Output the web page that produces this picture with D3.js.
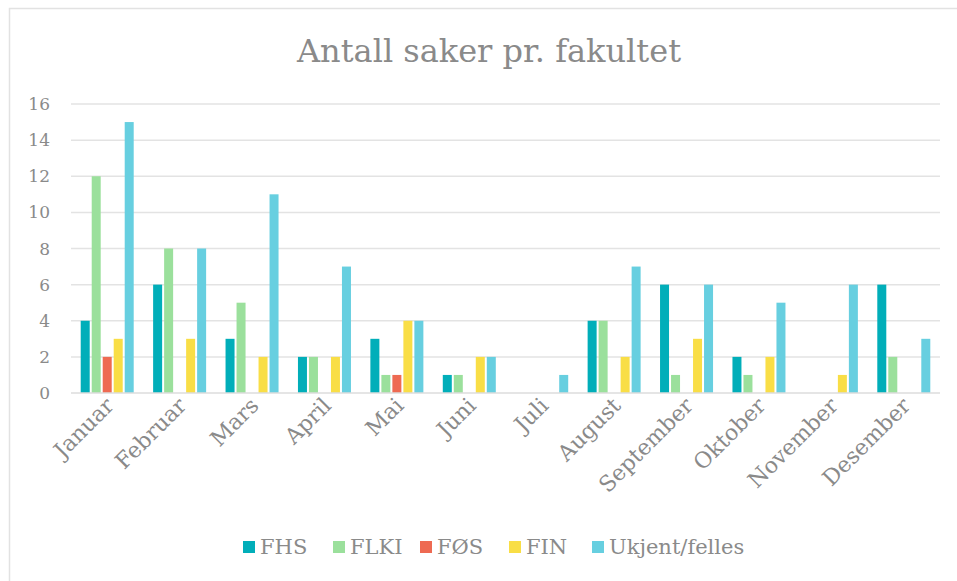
<!DOCTYPE html>
<html>
<head>
<meta charset="utf-8">
<script src="https://cdn.jsdelivr.net/npm/d3@7"></script>
<style>
  body { margin: 0; background: #fff; }
  text { font-family: "DejaVu Serif", Georgia, serif; fill: #8a8a8a; }
</style>
</head>
<body>
<div id="chart"></div>
<script>
// data
var months = ["Januar", "Februar", "Mars", "April", "Mai", "Juni", "Juli", "August", "September", "Oktober", "November", "Desember"];
var series = ["FHS", "FLKI", "FØS", "FIN", "Ukjent/felles"];
var fhs    = [4, 6, 3, 2, 3, 1, 0, 4, 6, 2, 0, 6];
var flki   = [12, 8, 5, 2, 1, 1, 0, 4, 1, 1, 0, 2];
var fos    = [2, 0, 0, 0, 1, 0, 0, 0, 0, 0, 0, 0];
var fin    = [3, 3, 2, 2, 4, 2, 0, 2, 3, 2, 1, 0];
var ukjent = [15, 8, 11, 7, 4, 2, 1, 7, 6, 5, 6, 3];
var yTicks = [0, 2, 4, 6, 8, 10, 12, 14, 16];
var colors = ["#01aeb9", "#9be09c", "#ee6a52", "#f9de46", "#67cfe0"];

var values = [fhs, flki, fos, fin, ukjent];

var w = 957, h = 581;
var plotL = 71, plotR = 940, plotT = 104, plotB = 393;

var svg = d3.select("#chart").append("svg")
    .attr("width", w)
    .attr("height", h);

// chart border (only top/left visible in the shot)
svg.append("rect")
    .attr("x", 9.5).attr("y", 8.5)
    .attr("width", 960).attr("height", 600)
    .attr("fill", "none")
    .attr("stroke", "#e2e2e2")
    .attr("stroke-width", 1.5);

var x0 = d3.scaleBand().domain(months).range([plotL, plotR]);
var groupW = 53;
var x1 = d3.scaleBand().domain(series).range([0, groupW]).paddingInner(2 / 11);
var y = d3.scaleLinear().domain([0, 16]).range([plotB, plotT]);

// gridlines
svg.append("g").selectAll("line")
    .data(yTicks.slice(1))
    .enter().append("line")
    .attr("x1", plotL).attr("x2", plotR)
    .attr("y1", function(d) { return y(d); })
    .attr("y2", function(d) { return y(d); })
    .style("stroke", "#e3e3e3")
    .style("stroke-width", 1.5);

// y labels
svg.append("g").selectAll("text")
    .data(yTicks)
    .enter().append("text")
    .attr("x", 50)
    .attr("y", function(d) { return y(d) + 6; })
    .attr("text-anchor", "end")
    .style("font-size", "17px")
    .text(function(d) { return d; });

// bars
var groups = svg.append("g").selectAll("g")
    .data(months)
    .enter().append("g")
    .attr("transform", function(d) {
        return "translate(" + (x0(d) + (x0.bandwidth() - groupW) / 2) + ",0)";
    });

groups.selectAll("rect")
    .data(function(m, i) {
        return series.map(function(s, j) { return {s: s, v: values[j][i], c: colors[j]}; });
    })
    .enter().append("rect")
    .attr("x", function(d) { return x1(d.s); })
    .attr("width", x1.bandwidth())
    .attr("y", function(d) { return y(d.v); })
    .attr("height", function(d) { return plotB - y(d.v); })
    .attr("fill", function(d) { return d.c; });

// baseline
svg.append("line")
    .attr("x1", plotL).attr("x2", plotR)
    .attr("y1", plotB).attr("y2", plotB)
    .style("stroke", "#dcdcdc")
    .style("stroke-width", 1.5);

// month labels, rotated
svg.append("g").selectAll("text")
    .data(months)
    .enter().append("text")
    .attr("text-anchor", "end")
    .attr("transform", function(d) {
        var cx = x0(d) + x0.bandwidth() / 2 + 8;
        return "translate(" + cx + "," + 407 + ") rotate(-45)";
    })
    .style("font-size", "22px")
    .text(function(d) { return d; });

// title
svg.append("text")
    .attr("x", 489).attr("y", 62)
    .attr("text-anchor", "middle")
    .style("font-size", "32px")
    .text("Antall saker pr. fakultet");

// legend
var legX = [243, 333, 420, 509, 592];
var leg = svg.append("g").selectAll("g")
    .data(series)
    .enter().append("g")
    .attr("transform", function(d, i) { return "translate(" + legX[i] + ",541)"; });

leg.append("rect")
    .attr("width", 12).attr("height", 12)
    .attr("fill", function(d, i) { return colors[i]; });

leg.append("text")
    .attr("x", 17).attr("y", 13)
    .style("font-size", "21px")
    .text(function(d) { return d; });
</script>
</body>
</html>
